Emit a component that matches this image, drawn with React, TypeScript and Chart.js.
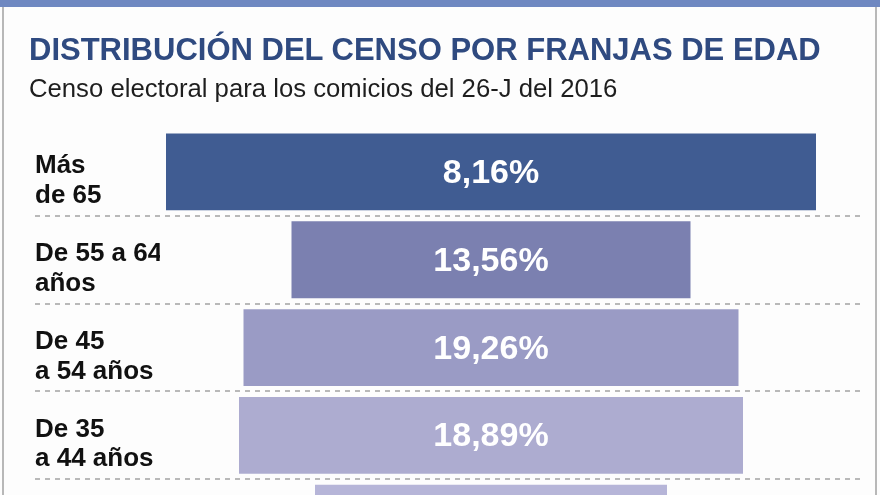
import React, { useEffect, useRef } from "react";
import { Chart, registerables } from "chart.js";

Chart.register(...registerables);

// ---- data ----
const ageGroups: string[][] = [
  ["Más", "de 65"],
  ["De 55 a 64", "años"],
  ["De 45", "a 54 años"],
  ["De 35", "a 44 años"],
  ["De 25", "a 34 años"],
];
// percentage printed on each bar
const censusShare = [8.16, 13.56, 19.26, 18.89, 15.6];
// drawn (centred) length of each bar, in chart units
const barSpan = [65.0, 39.9, 49.5, 50.4, 35.2];

const barColors = ["#405c92", "#7b80b0", "#9a9bc5", "#adacd0", "#b6b5d8"];
const FONT = "'Liberation Sans', Arial, Helvetica, sans-serif";

const fmt = (v: number) => v.toFixed(2).replace(".", ",") + "%";

const overlay = {
  id: "overlay",
  afterDatasetsDraw(chart: any) {
    const ctx = chart.ctx as CanvasRenderingContext2D;
    const ys = chart.scales.y;
    const meta = chart.getDatasetMeta(0);
    ctx.save();
    ctx.strokeStyle = "#b9b9b9";
    ctx.lineWidth = 2;
    ctx.setLineDash([5, 5]);
    for (let i = 0; i < ageGroups.length - 1; i++) {
      const py = Math.round((ys.getPixelForValue(i) + ys.getPixelForValue(i + 1)) / 2);
      ctx.beginPath();
      ctx.moveTo(35, py);
      ctx.lineTo(863, py);
      ctx.stroke();
    }
    ctx.setLineDash([]);
    ctx.fillStyle = "#ffffff";
    ctx.font = `bold 34px ${FONT}`;
    ctx.textAlign = "center";
    ctx.textBaseline = "alphabetic";
    meta.data.forEach((bar: any, i: number) => {
      const p = bar.getProps(["x", "base", "y"], true);
      ctx.fillText(fmt(censusShare[i]), (p.x + p.base) / 2, p.y + 11);
    });
    ctx.restore();
  },
};

export default function App() {
  const ref = useRef<HTMLCanvasElement | null>(null);

  useEffect(() => {
    document.body.style.margin = "0";
    const canvas = ref.current!;
    const chart = new Chart(canvas, {
      type: "bar",
      data: {
        labels: ageGroups,
        datasets: [
          {
            data: barSpan.map((w) => [-w / 2, w / 2]) as any,
            backgroundColor: barColors,
            borderWidth: 0,
            borderSkipped: false,
            categoryPercentage: 1,
            barPercentage: 0.875,
          },
        ],
      },
      options: {
        indexAxis: "y",
        animation: false,
        responsive: false,
        events: [],
        layout: { padding: { top: 128, bottom: 32, left: 35, right: 58 } },
        plugins: {
          legend: { display: false },
          tooltip: { enabled: false },
          title: { display: false },
        },
        scales: {
          x: { display: false, min: -33.1, max: 33.1 },
          y: {
            position: "left",
            grid: { display: false },
            border: { display: false },
            afterFit: (s: any) => {
              s.width = 125;
            },
            ticks: {
              crossAlign: "far",
              labelOffset: 9,
              color: "#111111",
              font: { family: FONT, size: 26, weight: "bold", lineHeight: 1.15 },
            },
          },
        },
      },
      plugins: [overlay],
    });
    return () => chart.destroy();
  }, []);

  return (
    <div
      style={{
        position: "fixed",
        left: 0,
        top: 0,
        width: 880,
        height: 495,
        overflow: "hidden",
        background: "#fdfdfd",
      }}
    >
      <div style={{ position: "absolute", left: 0, top: 0, width: 880, height: 7, background: "#6f88c1" }} />
      <div style={{ position: "absolute", left: 2, top: 7, width: 2, height: 488, background: "#b8b8b8" }} />
      <div style={{ position: "absolute", left: 875, top: 7, width: 2, height: 488, background: "#b8b8b8" }} />
      <canvas
        ref={ref}
        width={880}
        height={600}
        style={{ position: "absolute", left: 0, top: 0, width: 880, height: 600 }}
      />
      <div
        style={{
          position: "absolute",
          left: 29,
          top: 34,
          font: `bold 31px ${FONT}`,
          lineHeight: "31px",
          color: "#2f4a80",
          whiteSpace: "nowrap",
        }}
      >
        DISTRIBUCIÓN DEL CENSO POR FRANJAS DE EDAD
      </div>
      <div
        style={{
          position: "absolute",
          left: 29,
          top: 76,
          font: `25.7px ${FONT}`,
          lineHeight: "25.7px",
          color: "#1e1e1e",
          whiteSpace: "nowrap",
        }}
      >
        Censo electoral para los comicios del 26-J del 2016
      </div>
    </div>
  );
}
